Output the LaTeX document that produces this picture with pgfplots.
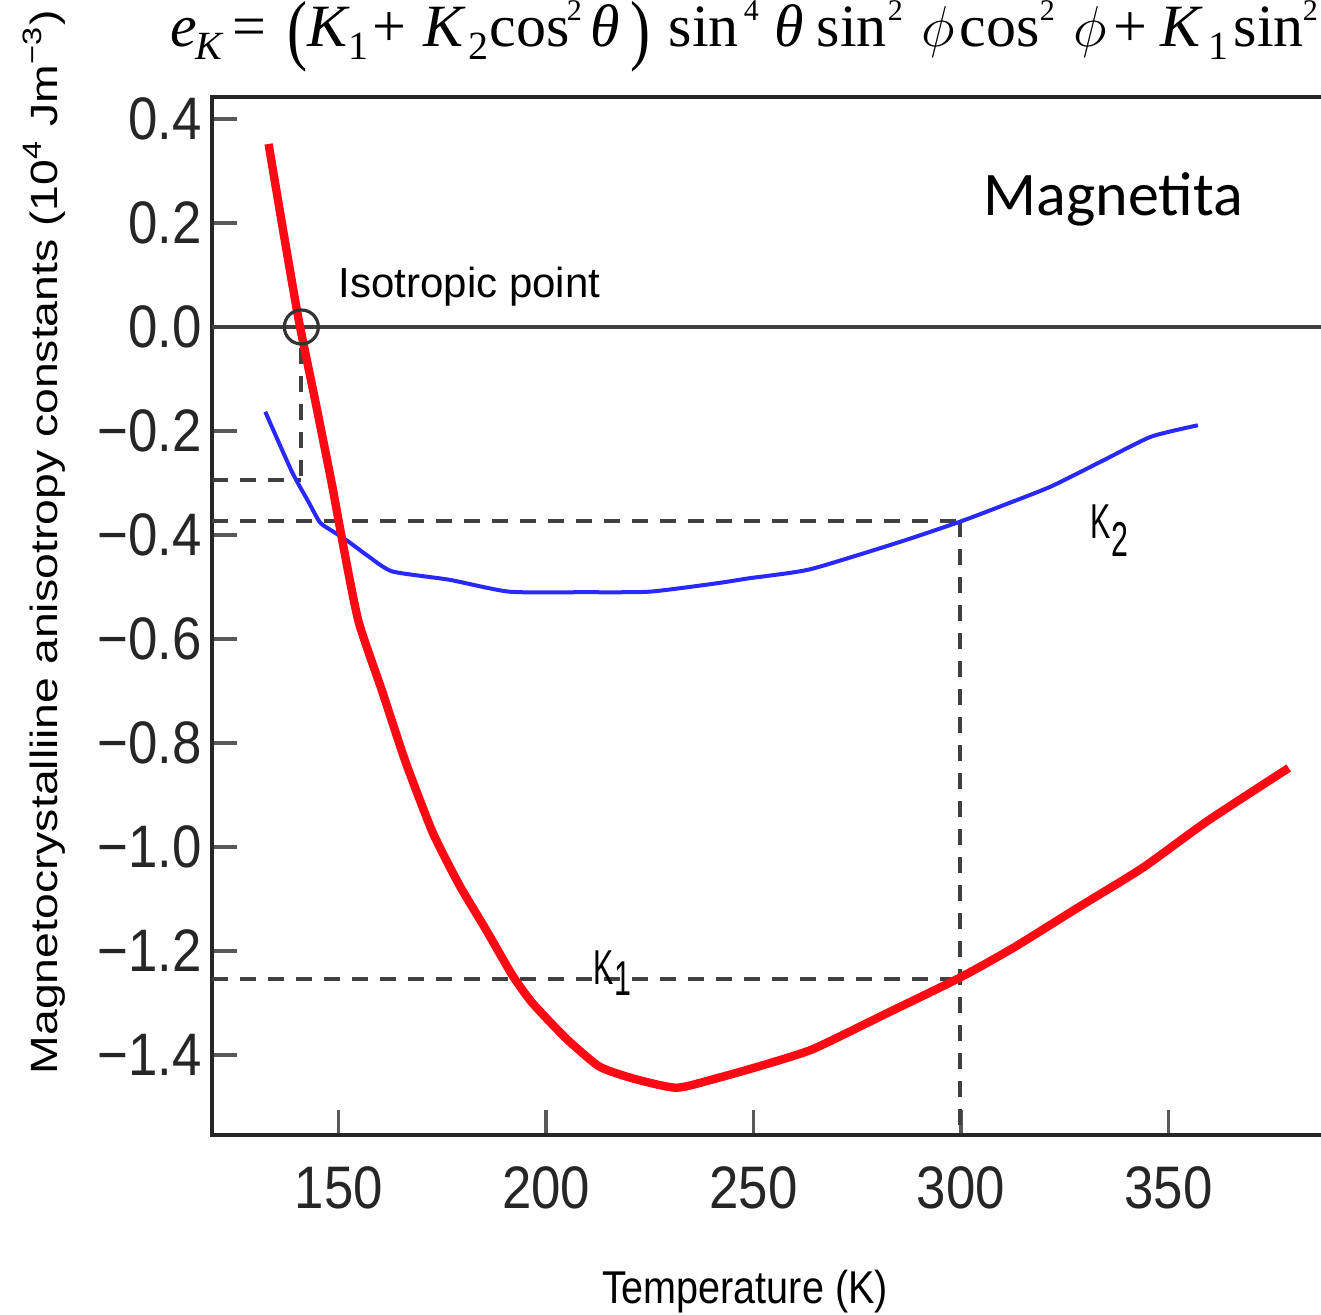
\documentclass[border=0pt]{standalone}
\usepackage{fontspec}
\setmainfont{Liberation Sans}
\usepackage{graphicx}
\usepackage{pgfplots}
\pgfplotsset{compat=1.18}
\newfontfamily\tnr{Liberation Serif}
\newfontfamily\ticksf[FakeStretch=0.88]{Liberation Sans}
\newfontfamily\xlabf[FakeStretch=0.86]{Liberation Sans}
\newfontfamily\ylabf[FakeStretch=1.22]{Liberation Sans}
\newfontfamily\kf[FakeStretch=0.62]{Liberation Sans}
\newfontfamily\carl{Carlito}
\definecolor{kred}{RGB}{255,10,20}
\definecolor{kblue}{RGB}{40,40,255}
\definecolor{dgray}{RGB}{64,64,64}
\newcommand\F[4]{\node[anchor=base west, inner sep=0pt, font=\tnr\fontsize{#3}{#3}\selectfont] at (#1*0.25pt,-#2*0.25pt) {#4};}
\begin{document}
\begin{tikzpicture}
\useasboundingbox (0,0) rectangle (330.25pt,-328.75pt);
\clip (0,0) rectangle (330.25pt,-328.75pt);
\begin{axis}[
  at={(53pt,-283.75pt)}, anchor=south west,
  scale only axis, width=279.5pt, height=259.5pt,
  xmin=119.46, xmax=388.95, ymin=-1.5538, ymax=0.4423,
  axis line style={line width=1.2pt, black!85},
  xtick={150,200,250,300,350},
  xticklabels={150,200,250,300,350},
  ytick={-1.4,-1.2,-1.0,-0.8,-0.6,-0.4,-0.2,0,0.2,0.4},
  yticklabels={−1.4,−1.2,−1.0,−0.8,−0.6,−0.4,−0.2,0.0,0.2,0.4},
  xtick pos=bottom, ytick pos=left,
  tick align=inside,
  major tick length=6.25pt,
  major tick style={line width=0.9pt, black!65},
  xticklabel style={font=\ticksf\fontsize{15}{15}\selectfont, yshift=-4.25pt, text=black!85},
  yticklabel style={font=\ticksf\fontsize{15}{15}\selectfont, xshift=1pt, text=black!85},
  xlabel={Temperature (K)},
  xlabel style={font=\xlabf\fontsize{11.5}{11.5}\selectfont, at={(axis description cs:0.4767,0)}, anchor=north, yshift=-30.3pt},
  ylabel={Magnetocrystalliine anisotropy constants (10\textsuperscript{4} Jm\textsuperscript{−3})},
  ylabel style={font=\ylabf\fontsize{9.5}{9.5}\selectfont, at={(axis description cs:-0.1386,0.0578)}, anchor=base west, inner sep=0pt},
]
% zero line
\addplot[dgray, line width=1pt, forget plot] coordinates {(119.46,0) (388.95,0)};
% dashed guides
\addplot[dgray, line width=1pt, dash pattern=on 4pt off 3pt] coordinates {(141.0,-0.04) (141.0,-0.294)};
\addplot[dgray, line width=1pt, dash pattern=on 4pt off 3pt] coordinates {(119.46,-0.294) (141.0,-0.294)};
\addplot[dgray, line width=1pt, dash pattern=on 4pt off 3pt] coordinates {(119.46,-0.373) (299.8,-0.373)};
\addplot[dgray, line width=1pt, dash pattern=on 4pt off 3pt] coordinates {(299.8,-0.373) (299.8,-1.5538)};
\addplot[dgray, line width=1pt, dash pattern=on 4pt off 3pt] coordinates {(119.46,-1.254) (299.8,-1.254)};
% K2
\addplot[kblue, line width=1pt, line join=round, smooth, tension=0.35] coordinates {
(132.3,-0.163) (138.7,-0.278) (142.7,-0.336) (145.5,-0.376) (148.4,-0.392)
(152.4,-0.413) (157,-0.44) (162.9,-0.470) (176.6,-0.486) (191.1,-0.509)
(208.7,-0.510) (224.9,-0.509) (241.0,-0.493) (249.1,-0.483) (263.6,-0.466)
(285.4,-0.413) (299.9,-0.374) (309.5,-0.345) (321.6,-0.307) (333.7,-0.259)
(345.8,-0.211) (357.1,-0.189)};
% K1
\addplot[kred, line width=2.1pt, line join=round, smooth, tension=0.35] coordinates {
(133.1,0.352) (136.3,0.20) (140.3,0.016) (144.4,-0.144) (148.4,-0.304)
(151.2,-0.425) (154.8,-0.567) (160.5,-0.701) (166.1,-0.836) (172.6,-0.971)
(179.0,-1.072) (185.5,-1.159) (191.9,-1.247) (196.7,-1.300) (204.8,-1.368)
(212.8,-1.422) (220.9,-1.445) (231.4,-1.463) (241,-1.445) (250.8,-1.423)
(264.2,-1.389) (281.8,-1.321) (299.8,-1.251) (312.8,-1.193) (328.3,-1.116)
(343.8,-1.040) (359.4,-0.950) (379.0,-0.848)};
% isotropic point circle
\addplot[only marks, mark=o, mark size=4.25pt, mark options={line width=0.8pt, black!80}] coordinates {(141.0,0)};
\node[anchor=base west, inner sep=0pt, font=\fontsize{10.5}{10.5}\selectfont] at (axis cs:149.83,0.0558) {Isotropic point};
\node[anchor=base west, inner sep=0pt, font=\kf\fontsize{12.25}{12.25}\selectfont] at (axis cs:331.1,-0.4058) {K\raisebox{-4.5pt}{2}};
\node[anchor=base west, inner sep=0pt, font=\kf\fontsize{12.25}{12.25}\selectfont] at (axis cs:211.3,-1.2635) {K\raisebox{-2.75pt}{1}};
\node[anchor=base west, inner sep=0pt, font=\carl\fontsize{15.5}{15.5}\selectfont] at (axis cs:305.3,0.2135) {Magnetita};
\end{axis}
% formula
\F{170}{47}{15}{\textit{e}}
\F{195}{60}{10}{\textit{K}}
\F{232}{47}{15}{=}
\F{287}{56}{15}{\scalebox{1}[1.3]{(}}
\F{307}{47}{15}{\textit{K}}
\F{348}{60}{10}{1}
\F{372}{47}{15}{+}
\F{423}{47}{15}{\textit{K}}
\F{468}{60}{10}{2}
\F{489}{47}{15}{cos}
\F{566}{21}{7.5}{2}
\F{590}{47}{15}{\textit{θ}}
\F{630}{56}{15}{\scalebox{1}[1.3]{)}}
\F{668}{47}{15}{sin}
\F{743}{21}{7.5}{4}
\F{774}{47}{15}{\textit{θ}}
\F{816}{47}{15}{sin}
\F{887}{21}{7.5}{2}
\F{921}{47}{15}{$\phi$}
\F{959}{47}{15}{cos}
\F{1039}{21}{7.5}{2}
\F{1073}{47}{15}{$\phi$}
\F{1113}{47}{15}{+}
\F{1160}{47}{15}{\textit{K}}
\F{1208}{60}{10}{1}
\F{1233}{47}{15}{sin}
\F{1302}{21}{7.5}{2}
\end{tikzpicture}
\end{document}
